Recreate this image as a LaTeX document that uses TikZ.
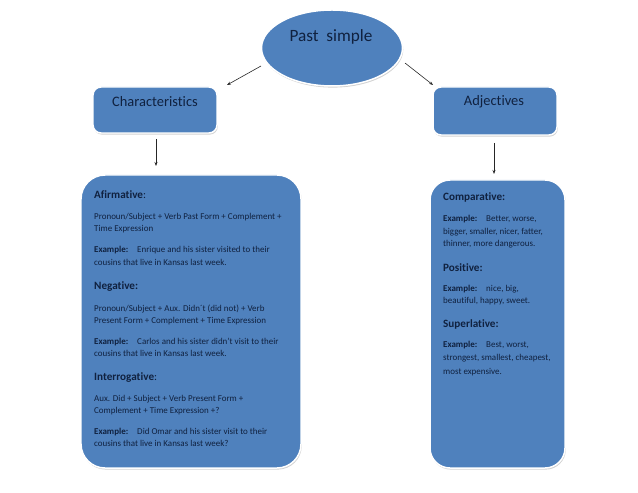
\documentclass[tikz,border=0pt]{standalone}
\usepackage{fontspec}
\setmainfont{Carlito}[Ligatures={NoCommon}]
\usetikzlibrary{shapes.geometric,shadows,arrows.meta}
\definecolor{boxblue}{HTML}{4F81BD}
\definecolor{ink}{HTML}{10213F}
\tikzset{
  box/.style={draw=white, line width=1.5pt, fill=boxblue,
    drop shadow={opacity=0.35, shadow xshift=0.8pt, shadow yshift=-1.6pt}},
  conn/.style={-{Stealth[length=4pt,width=3pt]}, line width=0.6pt, black!85},
  hd/.style={anchor=base west, inner sep=0pt, text=ink, font=\fontsize{11.2}{13}\selectfont\bfseries},
  tx/.style={anchor=base west, inner sep=0pt, text=ink, font=\fontsize{9}{10}\selectfont},
  title/.style={inner sep=0pt, text=ink, font=\fontsize{14.5}{16}\selectfont},
}
\begin{document}
\begin{tikzpicture}[x=1bp,y=-1bp]
\useasboundingbox (0,0) rectangle (638,493);
% main ellipse
\node[box, ellipse, minimum width=141bp, minimum height=76bp] (root) at (332,48) {};
\node[title, font=\fontsize{17.3}{19}\selectfont] (roott) at (331,37) {Past\ \ simple};
% level boxes
\path[box, rounded corners=8bp] (93,87) rectangle (217,133);
\coordinate (ch) at (155,110);
\node[title] (cht) at (155,102) {Characteristics};
\path[box, rounded corners=8bp] (433,87) rectangle (557,135);
\coordinate (ad) at (495,111);
\node[title] (adt) at (494,102) {Adjectives};
% big boxes
\path[box, rounded corners=24bp] (81,175) rectangle (301,468);
\path[box, rounded corners=20bp] (430,180) rectangle (565,468);
% connectors
\coordinate (r1) at (261,66);
\coordinate (r1e) at (227,85);
\coordinate (r2) at (405,63);
\coordinate (r2e) at (433,85);
\draw[conn] (r1) -- (r1e);
\draw[conn] (r2) -- (r2e);
\coordinate (c1) at (156,139);
\coordinate (c1e) at (156,166);
\coordinate (a1) at (494,143);
\coordinate (a1e) at (494,174);
\draw[conn] (c1) -- (c1e);
\draw[conn] (a1) -- (a1e);
% left box text
\node[hd] (l1) at (94,199) {Afirmative\mdseries:};
\node[tx] (l2) at (94,220) {Pronoun/Subject + Verb Past Form + Complement +};
\node[tx] (l3) at (94,232) {Time Expression};
\node[tx] (l4) at (94,253) {\textbf{Example:}\quad Enrique and his sister visited to their};
\node[tx] (l5) at (94,265) {cousins that live in Kansas last week.};
\node[hd] (l6) at (94,289) {Negative:};
\node[tx] (l7) at (94,311) {Pronoun/Subject + Aux. Didn´t (did not) + Verb};
\node[tx] (l8) at (94,323) {Present Form + Complement + Time Expression};
\node[tx] (l9) at (94,344) {\textbf{Example:}\quad Carlos and his sister didn’t visit to their};
\node[tx] (l10) at (94,356) {cousins that live in Kansas last week.};
\node[hd] (l11) at (94,380) {Interrogative\mdseries:};
\node[tx] (l12) at (94,401) {Aux. Did + Subject + Verb Present Form +};
\node[tx] (l13) at (94,413) {Complement + Time Expression +?};
\node[tx] (l14) at (94,434) {\textbf{Example:}\quad Did Omar and his sister visit to their};
\node[tx] (l15) at (94,446) {cousins that live in Kansas last week?};
% right box text
\node[hd] (r01) at (443,201) {Comparative:};
\node[tx] (r02) at (443,222) {\textbf{Example:}\quad Better, worse,};
\node[tx] (r03) at (443,235) {bigger, smaller, nicer, fatter,};
\node[tx] (r04) at (443,247) {thinner, more dangerous.};
\node[hd] (r05) at (443,271) {Positive:};
\node[tx] (r06) at (443,291) {\textbf{Example:}\quad nice, big,};
\node[tx] (r07) at (443,303) {beautiful, happy, sweet.};
\node[hd] (r08) at (443,327) {Superlative:};
\node[tx] (r09) at (443,347) {\textbf{Example:}\quad Best, worst,};
\node[tx] (r10) at (443,360) {strongest, smallest, cheapest,};
\node[tx] (r11) at (443,374) {most expensive.};
\end{tikzpicture}
\end{document}
